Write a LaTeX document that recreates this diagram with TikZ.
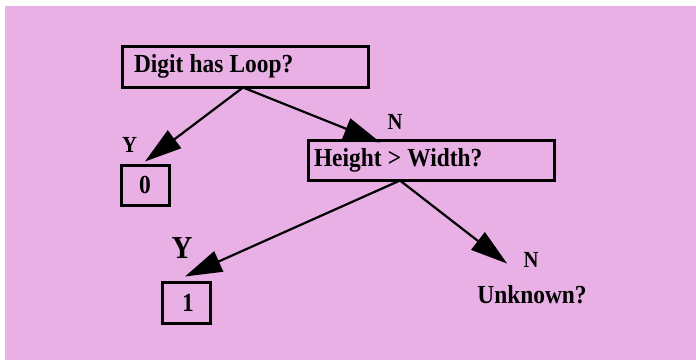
\documentclass[tikz,border=0pt]{standalone}
\usepackage{fontspec}
\setmainfont{Liberation Serif}
\newfontfamily\tfont[FakeStretch=0.9]{Liberation Serif}
\newcommand\tightspaces{\spaceskip=6.2pt plus 1pt\relax}
\usetikzlibrary{arrows.meta,calc}
\definecolor{bgpink}{RGB}{232,176,228}
\begin{document}
\begin{tikzpicture}[x=1pt,y=-1pt,
  qbox/.style={draw=black,line width=3pt,rectangle,inner sep=0pt,
    font=\tfont\fontsize{26}{28}\selectfont\bfseries},
  leaf/.style={inner sep=0pt,font=\tfont\fontsize{26}{28}\selectfont\bfseries},
  lbl/.style={inner sep=0pt,font=\tfont\fontsize{23}{25}\selectfont\bfseries},
  biglbl/.style={inner sep=0pt,font=\tfont\fontsize{32}{34}\selectfont\bfseries},
  arr/.style={line width=2.2pt,-{Triangle[length=37pt,width=22pt]}}]
\useasboundingbox (0,0) rectangle (696,360);
\fill[bgpink] (4.5,6) rectangle (696,360);
% decision boxes
\node[qbox,minimum width=246pt,minimum height=41pt,text width=222pt,align=left]
  (q1) at (245,66.5) {\tightspaces\raisebox{2.5pt}{Digit has Loop?}};
\node[qbox,minimum width=246pt,minimum height=40pt,text width=234pt,align=left]
  (q2) at (431,160) {\tightspaces\raisebox{3pt}{Height > Width?}};
% leaves
\node[qbox,minimum width=48pt,minimum height=40pt] (b0) at (145,185) {0};
\node[qbox,minimum width=48pt,minimum height=41pt] (b1) at (186,302.5) {\hspace*{4pt}1};
\node[leaf] (unk) at (532,295) {Unknown?};
% labels
\node[lbl] (y1) at (129.5,144.5) {Y};
\node[lbl] (n1) at (395,122) {N};
\node[biglbl] (y2) at (182,248) {Y};
\node[lbl] (n2) at (531,260) {N};
% connectors
\coordinate (s1) at ($(q1.south)+(-2,-1)$);
\coordinate (t1) at ($(q2.north west)+(74,4)$);
\coordinate (s2) at ($(q2.south)+(-31,-1)$);
\coordinate (t2) at ($(unk.north west)+(30,-22)$);
\draw[arr] (s1) -- ($(b0.north)+(0,-2)$);
\draw[arr] (s1) -- (t1);
\draw[arr] (s2) -- ($(b1.north)+(-1,-4)$);
\draw[arr] (s2) -- (t2);
\end{tikzpicture}
\end{document}
